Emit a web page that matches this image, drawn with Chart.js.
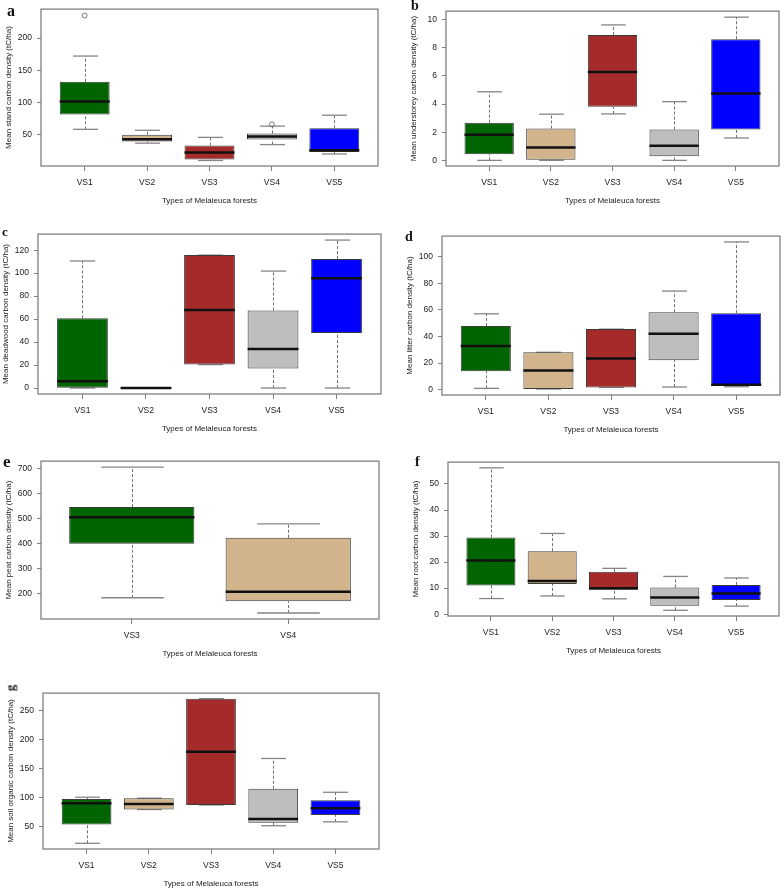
<!DOCTYPE html>
<html>
<head>
<meta charset="utf-8">
<script src="https://cdn.jsdelivr.net/npm/chart.js@4.4.1/dist/chart.umd.min.js"></script>
<style>
    html, body { margin: 0; padding: 0; background: #fff; }
    #fig { position: relative; width: 784px; height: 888px; overflow: hidden; }
    .panel { position: absolute; }
    .letter { position: absolute; font-family: "Liberation Serif", serif; font-weight: bold; color: #111; white-space: nowrap; }
</style>
</head>
<body>
<div id="fig"></div>
<script>
// ---------------- Data ----------------
const types5 = ["VS1", "VS2", "VS3", "VS4", "VS5"];
const types2 = ["VS3", "VS4"];

// each row: [lower whisker, Q1, median, Q3, upper whisker]
const standStats = [[58, 81, 101.5, 132, 172], [36.5, 39, 42.5, 49.5, 56.5], [9.6, 11, 22, 33, 45.5], [34.3, 42.4, 47, 51.5, 63], [19.7, 22.7, 25.3, 59.6, 80]];
const standOutliers = [{ type: "VS1", value: 235 }, { type: "VS4", value: 65.7 }];
const standTicks = [50, 100, 150, 200];

const understoreyStats = [[0, 0.44, 1.82, 2.68, 4.87], [0, 0, 0.92, 2.26, 3.28], [3.3, 3.8, 6.27, 8.9, 9.62], [0, 0.3, 1.04, 2.19, 4.17], [1.59, 2.19, 4.75, 8.6, 10.17]];
const understoreyTicks = [0, 2, 4, 6, 8, 10];

const deadwoodStats = [[0, 0.3, 6, 60.7, 110.6], [0, 0, 0, 0, 0], [20.4, 20.4, 68, 115.7, 115.7], [0, 17, 34, 67.5, 101.8], [0, 48, 95.6, 112.3, 128.8]];
const deadwoodTicks = [0, 20, 40, 60, 80, 100, 120];

const litterStats = [[1, 13.9, 32.8, 47.9, 57], [0.5, 0.5, 14.4, 28.1, 28.1], [1.7, 1.7, 23.5, 45.5, 45.5], [2, 22.2, 42, 58.2, 74.1], [2.2, 3.2, 3.7, 57.5, 111]];
const litterTicks = [0, 20, 40, 60, 80, 100];

const peatStats = [[184, 400, 506, 547, 706.5], [123, 170, 208, 424, 480]];
const peatTicks = [200, 300, 400, 500, 600, 700];

const rootStats = [[6, 11, 20.6, 29.4, 56.2], [7, 11.6, 12.75, 24.2, 31], [5.9, 9.4, 10, 16.25, 17.6], [1.5, 3.25, 6.4, 10.25, 14.5], [3.1, 5.4, 7.9, 11.25, 13.9]];
const rootTicks = [0, 10, 20, 30, 40, 50];

const soilStats = [[21.8, 54.2, 90.5, 97.8, 101], [79.9, 79.9, 89.4, 99.4, 99.4], [87.7, 87.7, 179.3, 270.4, 270.4], [52, 57, 63.7, 115.6, 167.6], [58.7, 70.4, 82, 96, 109.5]];
const soilTicks = [50, 100, 150, 200, 250];

const xTitle = "Types of Melaleuca forests";

// ---------------- Styles ----------------
const fillColors = ["#006400", "#D2B48C", "#A52A2A", "#BEBEBE", "#0000FF"];
const tickFont = { family: "'Liberation Sans', Arial, sans-serif", size: 8.5 };
const titleFont = { family: "'Liberation Sans', Arial, sans-serif", size: 8 };
const textColor = "#1a1a1a";
const frameColor = "#808080";

// ---------------- Panels ----------------
// plot: [left, top, right, bottom] of the framed plot area in page pixels
const panels = [
    { letter: "a", lx: 7, ly: 16, ls: 16, plot: [41, 5, 379, 166], types: types5, stats: standStats, outliers: standOutliers, ticks: standTicks, yMin: 1, yMax: 245, yTitle: "Mean stand carbon density (tC/ha)" },
    { letter: "b", lx: 411, ly: 11, ls: 14, plot: [446, 7, 779, 166], types: types5, stats: understoreyStats, outliers: [], ticks: understoreyTicks, yMin: -0.4, yMax: 10.6, yTitle: "Mean understorey carbon density (tC/ha)" },
    { letter: "c", lx: 2, ly: 236, ls: 13, plot: [38, 230, 381, 394], types: types5, stats: deadwoodStats, outliers: [], ticks: deadwoodTicks, yMin: -5.2, yMax: 134, yTitle: "Mean deadwood carbon density (tC/ha)" },
    { letter: "d", lx: 405, ly: 242, ls: 14, plot: [442, 232, 780, 395], types: types5, stats: litterStats, outliers: [], ticks: litterTicks, yMin: -4, yMax: 115.4, yTitle: "Mean litter carbon density (tC/ha)" },
    { letter: "e", lx: 3, ly: 467, ls: 17, plot: [41, 457, 379, 619], types: types2, stats: peatStats, outliers: [], ticks: peatTicks, yMin: 99, yMax: 731, yTitle: "Mean peat carbon density (tC/ha)" },
    { letter: "f", lx: 415, ly: 467, ls: 14, plot: [448, 458, 779, 616], types: types5, stats: rootStats, outliers: [], ticks: rootTicks, yMin: -0.7, yMax: 58.4, yTitle: "Mean root carbon density (tC/ha)" },
    { letter: "g", lx: 9.5, ly: 687.5, ls: 13, rotate: true, plot: [43, 689, 379, 849], types: types5, stats: soilStats, outliers: [], ticks: soilTicks, yMin: 12, yMax: 280, yTitle: "Mean soil organic carbon density (tC/ha)" }
];

// ---------------- Box parts plugin ----------------
function boxParts(p) {
    function seg(ctx, x1, y1, x2, y2) {
        ctx.beginPath();
        ctx.moveTo(x1, y1);
        ctx.lineTo(x2, y2);
        ctx.stroke();
    }
    return {
        id: "boxParts",
        beforeDatasetsDraw(chart) {
            const { ctx, scales: { x, y } } = chart;
            const unit = x.getPixelForValue(1) - x.getPixelForValue(0);
            ctx.save();
            p.stats.forEach((s, i) => {
                const cx = Math.round(x.getPixelForValue(i + 1)) + 0.5;
                // dashed whiskers
                ctx.strokeStyle = "#707070";
                ctx.lineWidth = 1;
                ctx.setLineDash([3, 2]);
                seg(ctx, cx, y.getPixelForValue(s[0]), cx, y.getPixelForValue(s[1]));
                seg(ctx, cx, y.getPixelForValue(s[3]), cx, y.getPixelForValue(s[4]));
                // staples
                ctx.setLineDash([]);
                ctx.strokeStyle = "#858585";
                ctx.lineWidth = 1.3;
                const h = unit * 0.2;
                seg(ctx, cx - h, y.getPixelForValue(s[0]), cx + h, y.getPixelForValue(s[0]));
                seg(ctx, cx - h, y.getPixelForValue(s[4]), cx + h, y.getPixelForValue(s[4]));
            });
            ctx.restore();
        },
        afterDatasetsDraw(chart) {
            const { ctx, scales: { x, y } } = chart;
            const unit = x.getPixelForValue(1) - x.getPixelForValue(0);
            ctx.save();
            ctx.strokeStyle = "#111";
            ctx.lineWidth = 2.5;
            p.stats.forEach((s, i) => {
                const cx = x.getPixelForValue(i + 1);
                const my = y.getPixelForValue(s[2]);
                seg(ctx, cx - unit * 0.4, my, cx + unit * 0.4, my);
            });
            ctx.restore();
        },
        afterDraw(chart) {
            const { ctx, chartArea: a } = chart;
            ctx.save();
            ctx.strokeStyle = frameColor;
            ctx.lineWidth = 1.3;
            ctx.strokeRect(a.left, a.top, a.right - a.left, a.bottom - a.top);
            ctx.restore();
        }
    };
}

// ---------------- Build ----------------
const fig = document.getElementById("fig");
const yAxisW = 40, xAxisH = 42, padL = 5, padT = 6, padR = 4, padB = 3;

panels.forEach(p => {
    const [L, T, R, B] = p.plot;
    const n = p.types.length;
    const ext = n * 0.04;

    const cv = document.createElement("canvas");
    const cw = R - L + yAxisW + padL + padR;
    const ch = B - T + xAxisH + padT + padB;
    cv.width = cw;
    cv.height = ch;
    cv.className = "panel";
    cv.style.left = (L - yAxisW - padL) + "px";
    cv.style.top = (T - padT) + "px";
    cv.style.width = cw + "px";
    cv.style.height = ch + "px";
    fig.appendChild(cv);

    // panel letter
    const lt = document.createElement("div");
    lt.className = "letter";
    lt.textContent = p.letter;
    lt.style.fontSize = p.ls + "px";
    lt.style.lineHeight = p.ls + "px";
    lt.style.left = p.lx + "px";
    if (p.rotate) {
        lt.style.top = p.ly + "px";
        lt.style.transform = "translate(-50%, -50%) rotate(-90deg)";
    } else {
        lt.style.top = (p.ly - p.ls * 0.84) + "px";
    }
    fig.appendChild(lt);

    new Chart(cv.getContext("2d"), {
        type: "bar",
        data: {
            datasets: [
                {
                    type: "bar",
                    data: p.stats.map((s, i) => ({ x: i + 1, y: [s[1], s[3]] })),
                    backgroundColor: p.types.map((t, i) => fillColors[i]),
                    borderColor: "#3c3c3c",
                    borderWidth: 1,
                    borderSkipped: false,
                    barPercentage: 0.8,
                    categoryPercentage: 1,
                    order: 2
                },
                {
                    type: "scatter",
                    data: p.outliers.map(o => ({ x: p.types.indexOf(o.type) + 1, y: o.value })),
                    pointStyle: "circle",
                    pointRadius: 2.5,
                    pointBorderColor: "#777",
                    pointBackgroundColor: "rgba(0,0,0,0)",
                    pointBorderWidth: 1,
                    order: 1
                }
            ]
        },
        options: {
            responsive: false,
            animation: false,
            devicePixelRatio: 1,
            layout: { padding: { left: padL, top: padT, right: padR, bottom: padB } },
            plugins: { legend: { display: false }, tooltip: { enabled: false } },
            scales: {
                x: {
                    type: "linear",
                    min: 0.5 - ext,
                    max: n + 0.5 + ext,
                    offset: false,
                    afterBuildTicks: s => { s.ticks = p.types.map((t, i) => ({ value: i + 1 })); },
                    afterFit: s => { s.height = xAxisH; },
                    ticks: {
                        autoSkip: false,
                        maxRotation: 0,
                        padding: 7,
                        font: tickFont,
                        color: textColor,
                        callback: (v, i) => p.types[i]
                    },
                    grid: { display: true, offset: false, drawOnChartArea: false, drawTicks: true, tickLength: 5, tickColor: frameColor },
                    border: { display: false },
                    title: { display: true, text: xTitle, font: titleFont, color: textColor, padding: { top: 0, bottom: 2.2 } }
                },
                y: {
                    type: "linear",
                    min: p.yMin,
                    max: p.yMax,
                    afterBuildTicks: s => { s.ticks = p.ticks.map(v => ({ value: v })); },
                    afterFit: s => { s.width = yAxisW; },
                    ticks: { padding: 5, font: tickFont, color: textColor },
                    grid: { display: true, drawOnChartArea: false, drawTicks: true, tickLength: 4, tickColor: frameColor },
                    border: { display: false },
                    title: { display: true, text: p.yTitle, font: titleFont, color: textColor, padding: { top: 3.2, bottom: 0 } }
                }
            }
        },
        plugins: [boxParts(p)]
    });
});
</script>
</body>
</html>
